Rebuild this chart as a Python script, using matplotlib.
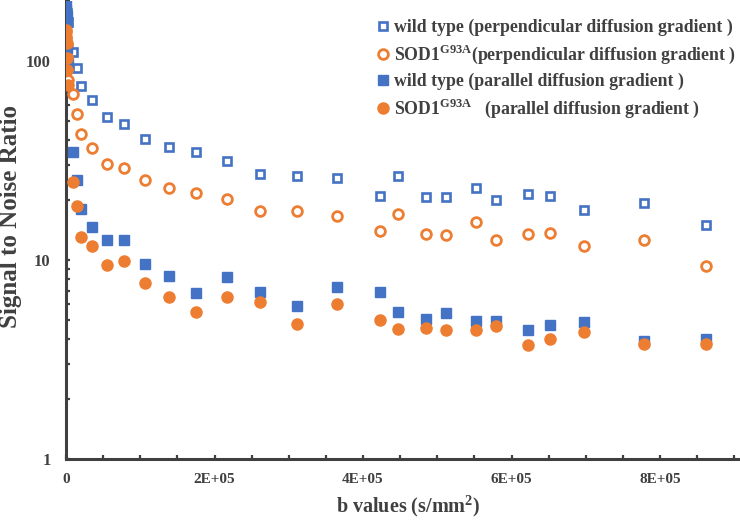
import matplotlib
matplotlib.use("Agg")
import matplotlib.pyplot as plt
from matplotlib.ticker import FixedLocator, MultipleLocator, LogLocator, NullFormatter, FixedFormatter

# b values (s/mm^2), shared by all four series
b_values = [0, 500, 1000, 1500, 2000, 3000,
            9500, 15000, 20000, 35000, 55000, 78000, 106000, 139000, 175000,
            217000, 261000, 311000, 365000, 423000, 447000, 485000, 512000,
            552000, 579000, 622000, 652000, 698000, 778000, 862000]

wt_perp = [195, 185, 175, 168, 162, 157,
           111, 92.2, 74.9, 63.7, 52.3, 48.2, 40.5, 36.9, 34.9,
           31.4, 27.1, 26.4, 25.8, 21.0, 26.4, 20.7, 20.7,
           23.0, 20.0, 21.5, 21.0, 17.8, 19.3, 15.0]

sod_perp = [140, 130, 120, 105, 92, 80,
            68.3, 54.2, 43.0, 36.5, 30.4, 29.0, 25.2, 23.0, 21.7,
            20.3, 17.6, 17.6, 16.6, 14.0, 17.0, 13.5, 13.4,
            15.5, 12.6, 13.5, 13.7, 11.8, 12.6, 9.33]

wt_par = [191, 180, 168, 157, 116, 98,
          34.9, 25.2, 18.0, 14.6, 12.6, 12.6, 9.55, 8.31, 6.83,
          8.22, 6.91, 5.87, 7.31, 6.91, 5.48, 5.05, 5.42,
          4.94, 4.94, 4.45, 4.71, 4.88, 3.92, 4.01]

sod_par = [143, 132, 123, 104, 90, 76,
           24.7, 18.7, 13.0, 11.8, 9.44, 9.89, 7.66, 6.52, 5.48,
           6.52, 6.15, 4.77, 6.01, 4.99, 4.50, 4.55, 4.45,
           4.45, 4.66, 3.74, 4.01, 4.35, 3.78, 3.78]

labels = [
    "wild type (perpendicular diffusion gradient )",
    r"SOD1$^{\mathbf{G93A}}$(perpendicular diffusion gradient )",
    "wild type (parallel diffusion gradient )",
    r"SOD1$^{\mathbf{G93A}}$   (parallel diffusion gradient )",
]

x_ticks = [0, 200000, 400000, 600000, 800000]
x_tick_labels = ["0", "2E+05", "4E+05", "6E+05", "8E+05"]
y_ticks = [1, 10, 100]
y_tick_labels = ["1", "10", "100"]

blue = "#4472C4"
orange = "#ED7D31"
grey = "#404040"

plt.rcParams["font.family"] = "Liberation Serif"
plt.rcParams["font.weight"] = "bold"
plt.rcParams["mathtext.fontset"] = "custom"
plt.rcParams["mathtext.rm"] = "Liberation Serif:bold"
plt.rcParams["mathtext.bf"] = "Liberation Serif:bold"

fig = plt.figure(figsize=(7.4, 5.2), dpi=100)
ax = fig.add_axes([66 / 740, 1 - 459 / 520, (738 - 66) / 740, 458 / 520])

ax.plot(b_values, wt_perp, linestyle="none", marker="s", ms=5.5, mfc="white",
        mec=blue, mew=1.9, label=labels[0], zorder=3)
ax.plot(b_values, sod_perp, linestyle="none", marker="o", ms=7, mfc="white",
        mec=orange, mew=2.0, label=labels[1], zorder=3)
ax.plot(b_values, wt_par, linestyle="none", marker="s", ms=6.5, mfc=blue,
        mec=blue, label=labels[2], zorder=4)
ax.plot(b_values, sod_par, linestyle="none", marker="o", ms=8, mfc=orange,
        mec=orange, label=labels[3], zorder=5)

ax.set_yscale("log")
ax.set_xlim(0, 905000)
ax.set_ylim(1, 200)

ax.xaxis.set_major_locator(FixedLocator(x_ticks))
ax.xaxis.set_major_formatter(FixedFormatter(x_tick_labels))
ax.xaxis.set_minor_locator(MultipleLocator(50000))
ax.yaxis.set_major_locator(FixedLocator(y_ticks))
ax.yaxis.set_major_formatter(FixedFormatter(y_tick_labels))
ax.yaxis.set_minor_locator(LogLocator(base=10, subs=range(2, 10)))
ax.yaxis.set_minor_formatter(NullFormatter())

for side in ["top", "right"]:
    ax.spines[side].set_visible(False)
for side in ["left", "bottom"]:
    ax.spines[side].set_color(grey)
    ax.spines[side].set_linewidth(2.2)

ax.tick_params(which="both", direction="in", color=grey, width=1.6, length=3)
ax.tick_params(axis="x", which="major", pad=10, labelsize=11, labelcolor=grey)
ax.tick_params(axis="y", which="major", pad=11, labelsize=12, labelcolor=grey)

ax.set_xlabel(r"b values (s/mm$^{\mathbf{2}}$)", fontsize=14.5, color=grey,
              fontweight="bold")
ax.set_ylabel("Signal to Noise Ratio", fontsize=18, color=grey,
              fontweight="bold")
ax.xaxis.set_label_coords(0.509, -0.075)
ax.yaxis.set_label_coords(-0.066, 0.53)

leg = ax.legend(loc="upper left", bbox_to_anchor=(378 / 740, 1 - 19 / 520),
                bbox_transform=fig.transFigure, frameon=False, fontsize=12.8,
                handlelength=0.6, handletextpad=0.3, labelspacing=0.38,
                borderaxespad=0, borderpad=0)
for t in leg.get_texts():
    t.set_color(grey)

fig.savefig("out.png", dpi=100)
